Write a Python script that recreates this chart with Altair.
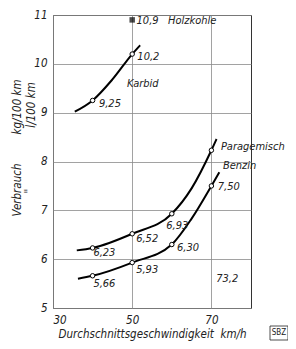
import altair as alt
import pandas as pd

FONT = "DejaVu Sans Condensed"
INK = "#222222"

# Curves
karbid_x = [35.5, 40, 45, 50, 52]
karbid_y = [9.02, 9.25, 9.68, 10.2, 10.38]
para_x = [36, 40, 50, 60, 65, 70, 71.3]
para_y = [6.18, 6.23, 6.52, 6.93, 7.45, 8.23, 8.46]
benzin_x = [36.3, 40, 50, 60, 65, 70, 72]
benzin_y = [5.60, 5.66, 5.93, 6.30, 6.83, 7.50, 7.78]

# Measured points (open circles)
pt_x = [40, 50, 40, 50, 60, 70, 40, 50, 60, 70]
pt_y = [9.25, 10.2, 6.23, 6.52, 6.93, 8.23, 5.66, 5.93, 6.30, 7.50]

# Holzkohle (filled square)
holz_x = [50]
holz_y = [10.9]

# Labels
lab_text = ["10,9\u00a0\u00a0\u00a0Holzkohle", "10,2", "Karbid", "9,25", "Paragemisch", "Benzin",
            "7,50", "6,93", "6,30", "6,52", "5,93", "6,23", "5,66", "73,2"]
lab_x = [51.1, 51.3, 48.7, 41.6, 72.4, 72.9, 71.6, 58.6, 61.3, 51.0, 51.0, 40.2, 40.2, 71.2]
lab_y = [10.88, 10.14, 9.58, 9.18, 8.30, 7.90, 7.47, 6.67, 6.22, 6.42, 5.77, 6.12, 5.50, 5.60]

x_ticks = [30, 40, 50, 60, 70, 80]
y_ticks = [5, 6, 7, 8, 9, 10, 11]

curves = pd.concat([
    pd.DataFrame({"v": karbid_x, "c": karbid_y, "s": "Karbid"}),
    pd.DataFrame({"v": para_x, "c": para_y, "s": "Paragemisch"}),
    pd.DataFrame({"v": benzin_x, "c": benzin_y, "s": "Benzin"}),
])
pts = pd.DataFrame({"v": pt_x, "c": pt_y})
holz = pd.DataFrame({"v": holz_x, "c": holz_y})
labs = pd.DataFrame({"v": lab_x, "c": lab_y, "t": lab_text})

xs = alt.Scale(domain=[30, 80], nice=False, zero=False)
ys = alt.Scale(domain=[5, 11], nice=False, zero=False)

xax = alt.Axis(values=x_ticks, title="Durchschnittsgeschwindigkeit\u00a0\u00a0km/h", ticks=False,
               domain=False, grid=True, gridColor="#8a8a8a", gridWidth=0.8,
               labelFont=FONT, labelFontStyle="italic", labelFontSize=11.5, labelColor=INK,
               labelPadding=6, titleFont=FONT, titleFontStyle="italic", titleFontWeight="normal",
               titleFontSize=11.5, titleColor=INK, titlePadding=3)
yax = alt.Axis(values=y_ticks, title=None, ticks=False, domain=False, grid=True,
               gridColor="#8a8a8a", gridWidth=0.8,
               labelFont=FONT, labelFontStyle="italic", labelFontSize=11.5, labelColor=INK,
               labelPadding=6)

X = alt.X("v:Q", scale=xs, axis=xax)
Y = alt.Y("c:Q", scale=ys, axis=yax)

lines = alt.Chart(curves).mark_line(color="black", strokeWidth=2, interpolate="monotone").encode(
    x=X, y=Y, detail="s:N")
circles = alt.Chart(pts).mark_point(shape="circle", filled=True, fill="white", stroke="black",
                                    strokeWidth=1, size=20, opacity=1).encode(x="v:Q", y="c:Q")
square = alt.Chart(holz).mark_square(color="black", size=30).encode(x="v:Q", y="c:Q")
texts = alt.Chart(labs).mark_text(align="left", baseline="middle", font=FONT, fontStyle="italic",
                                  fontSize=11, color=INK).encode(x="v:Q", y="c:Q", text="t:N")

ytitle_txt = ["Verbrauch", "kg/100 km", "\"", "l/100 km"]
ytitle = pd.DataFrame({"t": ytitle_txt, "px": [-35, -35, -23, -21], "py": [175, 92, 176, 90]})
ytl = alt.Chart(ytitle).mark_text(angle=270, align="center", baseline="middle", font=FONT,
                                  fontStyle="italic", fontSize=11.5, color=INK).encode(
    x=alt.X("px:Q", scale=None), y=alt.Y("py:Q", scale=None), text="t:N")

sbz = alt.Chart(pd.DataFrame({"t": ["SBZ"]})).mark_text(font=FONT, fontSize=8, color=INK,
                                                         align="center", baseline="middle").encode(
    x=alt.value(226), y=alt.value(318), text="t:N")
sbz_box = alt.Chart(pd.DataFrame({"t": ["SBZ"]})).mark_rect(fill=None, stroke=INK, strokeWidth=0.8).encode(
    x=alt.value(217), x2=alt.value(235), y=alt.value(311), y2=alt.value(325))

chart = alt.layer(lines, circles, square, texts, ytl, sbz, sbz_box).properties(
    width=198, height=293,
    autosize=alt.AutoSizeParams(type="none"),
    padding={"left": 45, "top": 7, "right": 37, "bottom": 33},
    background="white",
).configure_view(stroke="#333333", strokeWidth=1)

chart.save("out.html", embed_options={"renderer": "svg", "actions": False})
